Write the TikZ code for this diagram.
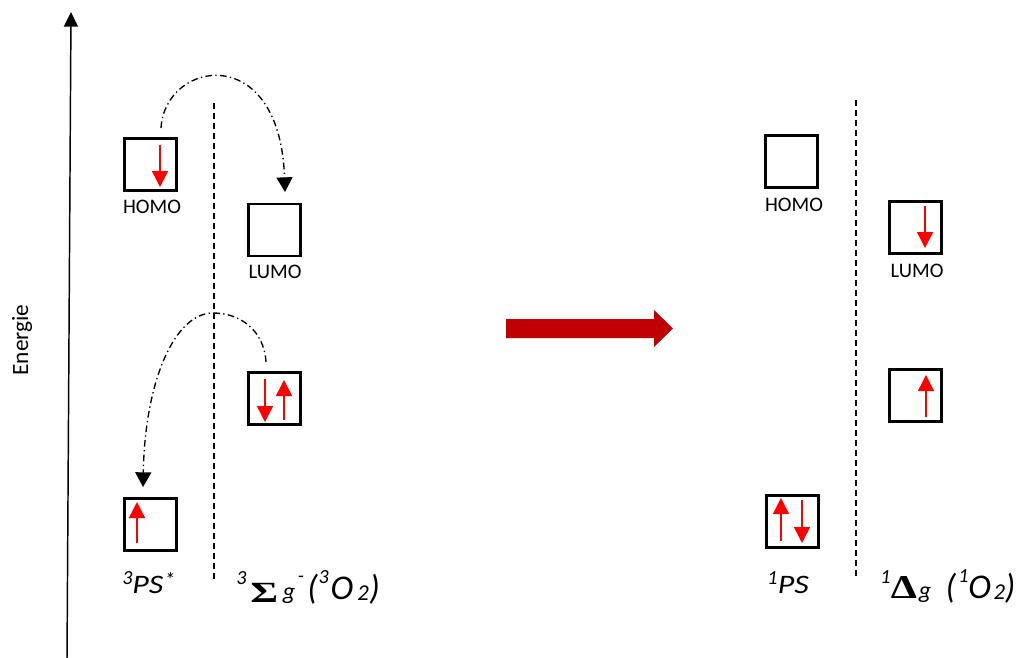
\documentclass[tikz,border=0pt]{standalone}
\usepackage{fontspec}
\usepackage{graphicx}
\setmainfont{Carlito}
\newfontfamily\sigfont{Liberation Serif}
\usetikzlibrary{arrows.meta,calc}
\definecolor{darkred}{HTML}{C00000}
\definecolor{ered}{HTML}{FF0000}
\newcommand\pc[2]{\makebox[#1pt][l]{#2}}
\newcommand\hi[2]{\raisebox{#1pt}{\fontsize{15}{15}\selectfont #2}}
\begin{document}
\begin{tikzpicture}[x=0.75pt,y=-0.75pt,
  orb/.style={draw=black,line width=2.2pt,minimum size=39pt,inner sep=0pt},
  elec/.style={draw=ered,line width=1.1pt,-{Triangle[width=12pt,length=12pt]},ered},
  lbl/.style={font=\fontsize{15.5}{18}\selectfont,inner sep=0pt},
  sep/.style={draw=black,line width=0.9pt,dash pattern=on 4.5pt off 3pt},
  hop/.style={draw=black,line width=1pt,dash pattern=on 5pt off 2.5pt on 1pt off 2.5pt,
    -{Triangle[width=12pt,length=11pt]}},
  state/.style={inner sep=0pt,anchor=base west}]
\useasboundingbox (0,0) rectangle (1020,657);
% energy axis
\coordinate (axb) at (67,660);
\coordinate (axt) at (71,12);
\draw[line width=1.1pt,-{Triangle[width=10.5pt,length=11pt]}] (axb) -- (axt);
\node[rotate=90,font=\fontsize{17.5}{19}\selectfont,inner sep=0pt] (en) at (22,340) {Energie};
% separators
\draw[sep] (214,103) -- (214,580);
\draw[sep] (856,100) -- (856,578);
% left boxes
\node[orb] (lh) at (150.5,164.5) {};
\node[orb] (ll) at (274.5,230) {};
\node[orb] (lo) at (274.5,398.5) {};
\node[orb] (lp) at (150.5,524.5) {};
% right boxes
\node[orb] (rh) at (791.5,161.5) {};
\node[orb] (rl) at (915.5,227.5) {};
\node[orb] (ro) at (915.5,395.5) {};
\node[orb] (rp) at (792.5,521.5) {};
% labels
\node[lbl] (lhl) at (152,207) {HOMO};
\node[lbl] (lll) at (275,272) {LUMO};
\node[lbl] (rhl) at (794,205) {HOMO};
\node[lbl] (rll) at (917,271) {LUMO};
% electrons
\draw[elec] ($(lh)+(9.5,-20)$) -- ($(lh)+(9.5,22.5)$);
\draw[elec] ($(lo)+(-9.5,-20)$) -- ($(lo)+(-9.5,23.5)$);
\draw[elec] ($(lo)+(9.5,21.5)$) -- ($(lo)+(9.5,-18.5)$);
\draw[elec] ($(lp)+(-13.5,18.5)$) -- ($(lp)+(-13.5,-22.5)$);
\draw[elec] ($(rl)+(9.5,-21.5)$) -- ($(rl)+(9.5,20.5)$);
\draw[elec] ($(ro)+(10.5,21.5)$) -- ($(ro)+(10.5,-20.5)$);
\draw[elec] ($(rp)+(-11.5,19.5)$) -- ($(rp)+(-11.5,-23.5)$);
\draw[elec] ($(rp)+(9.5,-21.5)$) -- ($(rp)+(9.5,21.5)$);
% hops
\coordinate (h1s) at ($(lh)+(10.5,-36.5)$);
\coordinate (h1e) at ($(ll)+(10.5,-38)$);
\draw[hop] (h1s) .. controls ($(h1s)+(4,-68)$) and ($(h1e)+(-5,-152)$) .. (h1e);
\coordinate (h2s) at ($(lo)+(-8.5,-36.5)$);
\coordinate (h2m) at (213,313);
\coordinate (h2e) at ($(lp)+(-7.5,-37.5)$);
\draw[hop] (h2s) .. controls ($(h2s)+(-2,-32)$) and ($(h2m)+(27,0)$) .. (h2m)
  .. controls ($(h2m)+(-38,0)$) and ($(h2e)+(2,-107)$) .. (h2e);
% big arrow
\fill[darkred] (506,319) -- (654,319) -- (654,310) -- (673,328.5) -- (654,347) -- (654,338) -- (506,338) -- cycle;
% state labels
\node[state,font=\fontsize{20}{22}\selectfont\itshape] (s1) at (122,593)
  {\pc{7.5}{\hi{6.5}{3}}\pc{24}{\scalebox{1.2}[1]{PS}}\raisebox{4pt}{\fontsize{16}{16}\selectfont *}};
\node[state,font=\fontsize{26}{28}\selectfont\itshape] (s2) at (236,599)
  {\pc{10.5}{\hi{11}{3}}\pc{24.5}{\raisebox{-2.5pt}{\sigfont\bfseries\upshape\fontsize{22}{22}\selectfont\scalebox{1.45}[1]{Σ}}}\pc{11.25}{\fontsize{18}{18}\selectfont g}\pc{7}{\hi{12.5}{-}}\pc{8.5}{(}\pc{9}{\hi{11.5}{3}}\pc{20}{O}\pc{9}{\raisebox{-1pt}{\fontsize{17}{17}\selectfont 2}})};
\node[state,font=\fontsize{20}{22}\selectfont\itshape] (s3) at (767,593)
  {\pc{8}{\hi{6.5}{1}}\scalebox{1.2}[1]{PS}};
\node[state,font=\fontsize{26}{28}\selectfont\itshape] (s4) at (880,598)
  {\pc{8}{\hi{11}{1}}\pc{21}{\sigfont\bfseries\upshape\fontsize{25}{25}\selectfont\scalebox{1.25}[1]{Δ}}\pc{20}{\fontsize{18}{18}\selectfont g}\pc{9.5}{(}\pc{7.5}{\hi{11.5}{1}}\pc{19}{O}\pc{8.5}{\raisebox{-1pt}{\fontsize{17}{17}\selectfont 2}})};
\end{tikzpicture}
\end{document}
